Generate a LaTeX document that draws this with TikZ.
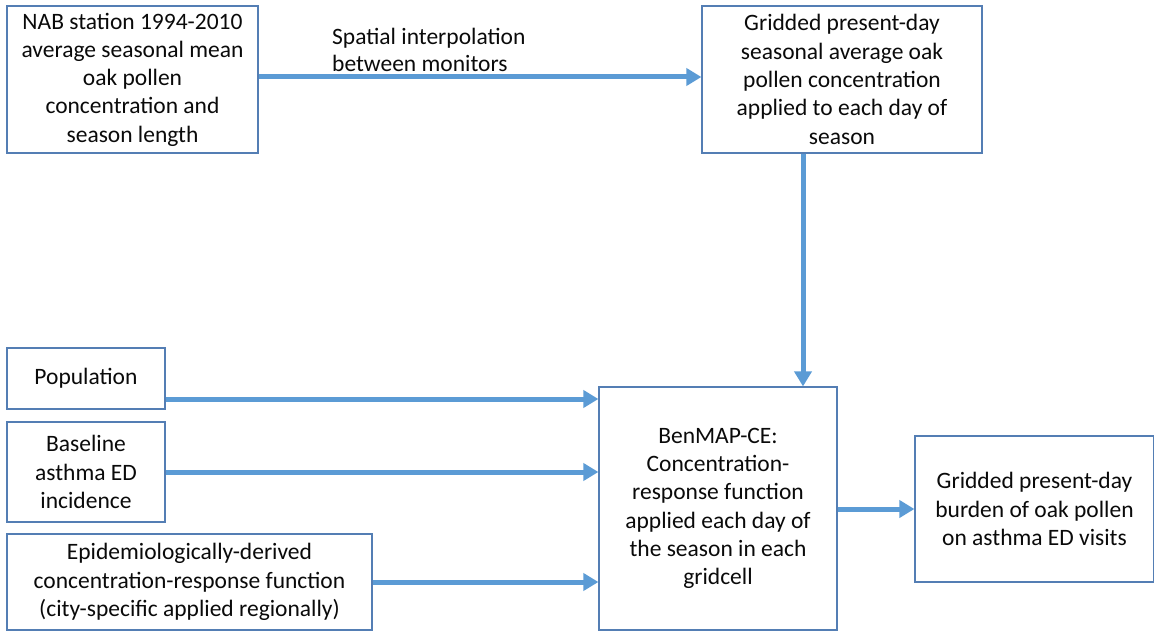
\documentclass[tikz,border=0pt]{standalone}
\usepackage{fontspec}
\setmainfont{Carlito}
\usetikzlibrary{arrows.meta}
\definecolor{boxline}{RGB}{84,126,180}
\definecolor{arrowblue}{RGB}{91,155,213}
\definecolor{txt}{RGB}{10,10,10}
\tikzset{
  box/.style={draw=boxline, line width=1.2pt, fill=white, inner sep=0pt, align=center,
    font=\fontsize{23.5}{28.3}\selectfont, text=txt},
  arr/.style={draw=arrowblue, line width=5pt, -{Triangle[length=15pt,width=17pt]}},
  lbl/.style={inner sep=0pt, align=left, font=\fontsize{23.5}{27}\selectfont, text=txt}
}
\begin{document}
\begin{tikzpicture}[x=1pt,y=-1pt]
\useasboundingbox (0,0) rectangle (1154,631);
\node[box, minimum width=251pt, minimum height=147pt] (A) at (132.5,79.5)
  {NAB station 1994-2010\\average seasonal mean\\oak pollen\\concentration and\\season length};
\node[box, minimum width=280pt, minimum height=147pt] (B) at (842,79.5)
  {Gridded present-day\\seasonal average oak\\pollen concentration\\applied to each day of\\season};
\node[box, minimum width=158pt, minimum height=61pt] (P) at (86,378.5) {Population};
\node[box, minimum width=158pt, minimum height=100pt] (BL) at (86,472)
  {Baseline\\asthma ED\\incidence};
\node[box, minimum width=365pt, minimum height=96pt] (E) at (189.5,582)
  {Epidemiologically-derived\\concentration-response function\\(city-specific applied regionally)};
\node[box, minimum width=238pt, minimum height=243pt] (M) at (718,508.5)
  {BenMAP-CE:\\Concentration-\\response function\\applied each day of\\the season in each\\gridcell};
\node[box, minimum width=239pt, minimum height=146pt] (O) at (1034.5,509)
  {Gridded present-day\\burden of oak pollen\\on asthma ED visits};
\node[lbl, anchor=west] (L) at (332,50) {Spatial interpolation\\between monitors};
\draw[arr] ([yshift=2.5pt]A.east) -- ([yshift=2.5pt]A.east -| B.west);
\draw[arr] ([xshift=-39pt]B.south) -- ([xshift=-39pt]B.south |- M.north);
\draw[arr] ([yshift=-20.5pt]P.east) -- ([yshift=-20.5pt]P.east -| M.west);
\draw[arr] (BL.east) -- (BL.east -| M.west);
\draw[arr] (E.east) -- (E.east -| M.west);
\draw[arr] (M.east |- O.west) -- (O.west);
\end{tikzpicture}
\end{document}
